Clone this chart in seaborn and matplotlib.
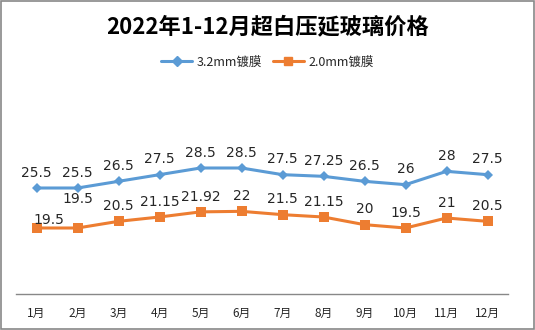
import matplotlib
matplotlib.use("Agg")
import matplotlib.pyplot as plt
import seaborn as sns
import pandas as pd
from matplotlib.patches import Rectangle
from matplotlib.lines import Line2D

months = ["1月", "2月", "3月", "4月", "5月", "6月", "7月", "8月", "9月", "10月", "11月", "12月"]
s32 = [25.5, 25.5, 26.5, 27.5, 28.5, 28.5, 27.5, 27.25, 26.5, 26, 28, 27.5]
s20 = [19.5, 19.5, 20.5, 21.15, 21.92, 22, 21.5, 21.15, 20, 19.5, 21, 20.5]
labels32 = ["25.5", "25.5", "26.5", "27.5", "28.5", "28.5", "27.5", "27.25", "26.5", "26", "28", "27.5"]
labels20 = ["19.5", "19.5", "20.5", "21.15", "21.92", "22", "21.5", "21.15", "20", "19.5", "21", "20.5"]
series_names = ["3.2mm镀膜", "2.0mm镀膜"]
title = "2022年1-12月超白压延玻璃价格"

sns.set_theme(style="white")
plt.rcParams['font.family'] = ['Noto Sans CJK SC', 'DejaVu Sans']

df = pd.DataFrame({
    "idx": list(range(len(months))) * 2,
    "value": s32 + s20,
    "series": [series_names[0]] * len(months) + [series_names[1]] * len(months),
})

fig = plt.figure(figsize=(5.35, 3.3), dpi=100)
ax = fig.add_axes([16 / 535, 1 - 294 / 330, 492 / 535, 214 / 330])

colors = {series_names[0]: "#5B9BD5", series_names[1]: "#ED7D31"}
sns.lineplot(data=df, x="idx", y="value", hue="series", style="series",
             markers={series_names[0]: "D", series_names[1]: "s"},
             dashes=False, palette=colors, linewidth=2.2, ax=ax,
             markeredgewidth=0, legend=False)
for line, ms in zip(ax.lines, [5, 7]):
    line.set_markersize(ms)

ax.set_xlim(-0.5, len(months) - 0.5)
ax.set_ylim(9.6, 41.7)
ax.set_xticks(range(len(months)))
ax.set_xticklabels(months, fontsize=8.5)
ax.tick_params(axis="x", length=0, pad=9)
ax.set_yticks([])
ax.set_xlabel("")
ax.set_ylabel("")
for sp in ["top", "left", "right"]:
    ax.spines[sp].set_visible(False)
ax.spines["bottom"].set_color("#888888")
ax.spines["bottom"].set_linewidth(1)

for i, (v, t) in enumerate(zip(s32, labels32)):
    ax.annotate(t, (i, v), xytext=(0, 6), textcoords="offset points",
                ha="center", va="bottom", fontsize=10, family="DejaVu Sans")
for i, (v, t) in enumerate(zip(s20, labels20)):
    dx = 9 if i == 0 else 0
    dy = 1 if i == 0 else 6
    if i == 1:
        dy = 16
    ax.annotate(t, (i, v), xytext=(dx, dy), textcoords="offset points",
                ha="center", va="bottom", fontsize=10, family="DejaVu Sans")

fig.text(0.5, 1 - 27 / 330, title, ha="center", va="center",
         fontsize=16, fontweight="bold", color="black")

handles = [Line2D([0], [0], color="#5B9BD5", marker="D", markersize=5, lw=2.2),
           Line2D([0], [0], color="#ED7D31", marker="s", markersize=6, lw=2.2)]
fig.legend(handles, series_names, loc="center", bbox_to_anchor=(0.5, 1 - 62 / 330),
           ncol=2, frameon=False, fontsize=9, handlelength=2.5, columnspacing=0.8,
           handletextpad=0.4)

fig.patches.append(Rectangle((0.001, 0.002), 0.997, 0.995, transform=fig.transFigure,
                             fill=False, edgecolor="#888888", linewidth=1.2))

fig.savefig("out.png", dpi=100)
